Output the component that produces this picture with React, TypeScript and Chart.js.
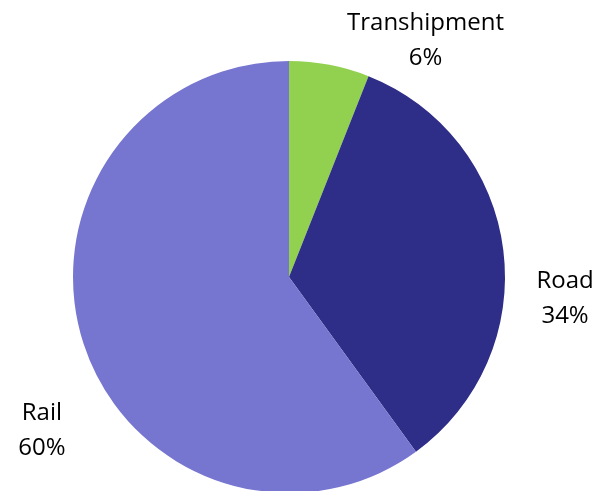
import React, { useEffect, useRef } from "react";
import { Chart, registerables } from "chart.js";

Chart.register(...registerables);

const categories = ["Transhipment", "Road", "Rail"];
const shares = [6, 34, 60];
const colors = ["#92D050", "#2E2D87", "#7676D0"];
// label anchor offsets relative to pie radius (x, y)
const labelAnchors = [
  [0.632, -1.093],
  [1.278, 0.098],
  [-1.144, 0.71],
];

const labelPlugin = {
  id: "pieLabels",
  afterDatasetsDraw(chart: any) {
    const meta = chart.getDatasetMeta(0);
    const arc = meta.data[0];
    if (!arc) return;
    const cx = arc.x;
    const cy = arc.y;
    const r = arc.outerRadius;
    const ctx = chart.ctx;
    ctx.save();
    ctx.fillStyle = "#000000";
    ctx.font = "24px 'Open Sans'";
    ctx.textAlign = "center";
    ctx.textBaseline = "middle";
    const lh = 35;
    categories.forEach((c, i) => {
      const x = cx + labelAnchors[i][0] * r;
      const y = cy + labelAnchors[i][1] * r;
      ctx.fillText(c, x, y - lh / 2);
      ctx.fillText(shares[i] + "%", x, y + lh / 2);
    });
    ctx.restore();
  },
};

export default function App() {
  const ref = useRef<HTMLCanvasElement>(null);
  useEffect(() => {
    document.body.style.margin = "0";
    document.body.style.overflow = "hidden";
    const chart = new Chart(ref.current!, {
      type: "pie",
      data: {
        labels: categories,
        datasets: [
          {
            data: shares,
            backgroundColor: colors,
            borderWidth: 0,
          },
        ],
      },
      options: {
        animation: false,
        responsive: false,
        events: [],
        layout: { padding: { top: 61, bottom: 27, left: 73, right: 106 } },
        plugins: {
          legend: { display: false },
          tooltip: { enabled: false },
        },
      },
      plugins: [labelPlugin],
    });
    return () => chart.destroy();
  }, []);
  return (
    <div style={{ width: 611, height: 491, overflow: "hidden", background: "#fff" }}>
      <canvas ref={ref} width={611} height={520} style={{ display: "block" }} />
    </div>
  );
}
